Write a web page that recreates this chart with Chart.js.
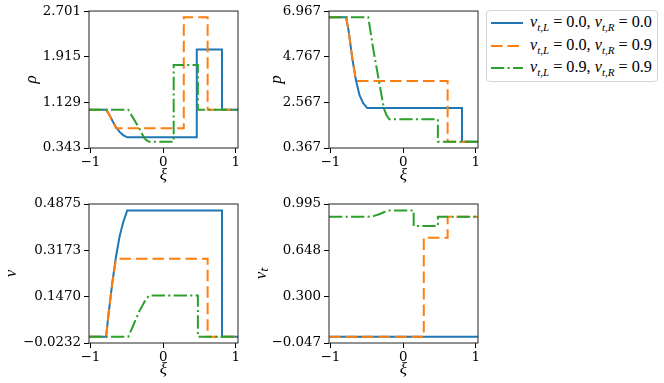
<!DOCTYPE html>
<html>
<head>
<meta charset="utf-8">
<script src="https://cdn.jsdelivr.net/npm/chart.js"></script>
<style>
  body { margin: 0; background: #fff; }
  #fig { position: relative; width: 664px; height: 383px; overflow: hidden; background: #fff; }
  #fig canvas { position: absolute; }
  #legend { position: absolute; left: 486px; top: 10px; width: 172px; height: 72px; box-sizing: border-box;
            border: 1px solid #d4d4d4; border-radius: 4px; background: #fff;
            font-family: "Liberation Serif", serif; font-size: 16.2px; color: #000; }
  .row { position: absolute; left: 0; height: 20px; line-height: 20px; white-space: nowrap; }
  .row svg { position: absolute; left: 3px; top: 7px; }
  .row span { position: absolute; left: 43px; top: 0; }
  .row sub { font-size: 11px; vertical-align: -4px; line-height: 0; }
</style>
</head>
<body>
<div id="fig">
  <canvas id="cRho" width="250" height="190" style="left:0;top:0"></canvas>
  <canvas id="cP" width="250" height="190" style="left:240px;top:0"></canvas>
  <canvas id="cV" width="250" height="193" style="left:0;top:190px"></canvas>
  <canvas id="cVt" width="250" height="193" style="left:240px;top:190px"></canvas>
  <div id="legend"></div>
</div>
<script>
// self-similar coordinate xi, one set of nodes per run
const xiBlue   = [-1.02, -0.785, -0.75, -0.70, -0.65, -0.60, -0.55, -0.494, 0.463, 0.463, 0.81, 0.81, 1.03];
const rhoBlue  = [1.0, 1.0, 0.935, 0.815, 0.705, 0.62, 0.565, 0.527, 0.527, 2.04, 2.04, 1.0, 1.0];
const pBlue    = [6.667, 6.667, 6.01, 4.70, 3.64, 2.91, 2.53, 2.29, 2.29, 2.29, 2.29, 0.667, 0.667];
const vBlue    = [0, 0, 0.086, 0.197, 0.292, 0.367, 0.420, 0.464, 0.464, 0.464, 0.464, 0, 0];
const vtBlue   = [0, 0, 0, 0, 0, 0, 0, 0, 0, 0, 0, 0, 0];

const xiOrange  = [-1.02, -0.785, -0.75, -0.70, -0.648, 0.284, 0.284, 0.612, 0.612, 1.03];
const rhoOrange = [1.0, 1.0, 0.935, 0.815, 0.685, 0.685, 2.594, 2.594, 1.0, 1.0];
const pOrange   = [6.667, 6.667, 6.01, 4.70, 3.60, 3.60, 3.60, 3.60, 0.667, 0.667];
const vOrange   = [0, 0, 0.086, 0.197, 0.286, 0.286, 0.286, 0.286, 0, 0];
const vtOrange  = [0, 0, 0, 0, 0, 0, 0.742, 0.742, 0.9, 0.9];

const xiGreen  = [-1.02, -0.48, -0.41, -0.33, -0.266, -0.23, -0.19, 0.145, 0.145, 0.478, 0.478, 1.03];
const rhoGreen = [1.0, 1.0, 0.853, 0.685, 0.527, 0.478, 0.45, 0.45, 1.771, 1.771, 1.0, 1.0];
const pGreen   = [6.667, 6.667, 5.1, 3.55, 2.29, 1.95, 1.75, 1.75, 1.75, 1.75, 0.667, 0.667];
const vGreen   = [0, 0, 0.042, 0.092, 0.124, 0.140, 0.151, 0.151, 0.151, 0.151, 0, 0];
const vtGreen  = [0.9, 0.9, 0.904, 0.918, 0.933, 0.941, 0.947, 0.947, 0.83, 0.83, 0.9, 0.9];

const rhoTicks = ['0.343', '1.129', '1.915', '2.701'];
const pTicks   = ['0.367', '2.567', '4.767', '6.967'];
const vTicks   = ['-0.0232', '0.1470', '0.3173', '0.4875'];
const vtTicks  = ['-0.047', '0.300', '0.648', '0.995'];
const xiTicks  = [-1, 0, 1];

const runLabels = ['v_{t,L} = 0.0, v_{t,R} = 0.0', 'v_{t,L} = 0.0, v_{t,R} = 0.9', 'v_{t,L} = 0.9, v_{t,R} = 0.9'];

const colors = ['#1f77b4', '#ff7f0e', '#2ca02c'];
const dashes = [[], [11.5, 5], [13.3, 3.3, 2.1, 3.3]];

const tickFont = { family: 'DejaVu Serif', size: 13.4 };
const labelFont = { family: 'Liberation Serif', size: 17, style: 'italic' };
const minus = s => String(s).replace('-', '\u2212');

const frame = {
  id: 'frame',
  afterDraw(chart) {
    const a = chart.chartArea, ctx = chart.ctx;
    ctx.save();
    ctx.strokeStyle = '#222';
    ctx.lineWidth = 1;
    ctx.strokeRect(a.left, a.top, a.right - a.left, a.bottom - a.top);
    ctx.restore();
  }
};

function pts(xs, ys) { return xs.map((x, i) => ({ x: x, y: ys[i] })); }

function makePanel(id, series, ticks, yLabel, opt) {
  const datasets = series.map((s, i) => ({
    data: pts(s[0], s[1]),
    borderColor: colors[i],
    borderWidth: 2,
    borderDash: dashes[i],
    pointRadius: 0,
    tension: 0,
    fill: false,
    order: 3 - i
  }));
  return new Chart(document.getElementById(id), {
    type: 'line',
    data: { datasets: datasets },
    plugins: [frame],
    options: {
      responsive: false,
      animation: false,
      layout: { padding: { left: 0, right: 12, top: opt.top, bottom: 0 } },
      plugins: { legend: { display: false }, tooltip: { enabled: false } },
      scales: {
        x: {
          type: 'linear', min: -1.02, max: 1.03,
          afterBuildTicks: s => { s.ticks = xiTicks.map(v => ({ value: v })); },
          afterFit: s => { s.height = opt.xh; },
          ticks: { font: tickFont, color: '#000', padding: 1, maxRotation: 0, callback: v => minus(v) },
          grid: { drawOnChartArea: false, drawTicks: true, tickLength: 5, color: '#000', lineWidth: 1 },
          border: { display: false },
          title: { display: true, text: '\u03be', font: labelFont, color: '#000', padding: { top: 0, bottom: opt.xpad } }
        },
        y: {
          min: +ticks[0], max: +ticks[3],
          afterBuildTicks: s => { s.ticks = ticks.map(v => ({ value: +v })); },
          afterFit: s => { s.width = 89; },
          ticks: { font: tickFont, color: '#000', padding: 3, callback: (v, i) => minus(ticks[i]) },
          grid: { drawOnChartArea: false, drawTicks: true, tickLength: 5, color: '#000', lineWidth: 1 },
          border: { display: false },
          title: { display: true, text: yLabel, font: labelFont, color: '#000', padding: { top: opt.ypad, bottom: 0 } }
        }
      }
    }
  });
}

makePanel('cRho', [[xiBlue, rhoBlue], [xiOrange, rhoOrange], [xiGreen, rhoGreen]], rhoTicks, '\u03c1', { top: 10, xh: 42, xpad: 4, ypad: 21 });
makePanel('cP', [[xiBlue, pBlue], [xiOrange, pOrange], [xiGreen, pGreen]], pTicks, 'p', { top: 10, xh: 42, xpad: 4, ypad: 26 });
makePanel('cV', [[xiBlue, vBlue], [xiOrange, vOrange], [xiGreen, vGreen]], vTicks, 'v', { top: 14, xh: 40, xpad: 3, ypad: 1 });
makePanel('cVt', [[xiBlue, vtBlue], [xiOrange, vtOrange], [xiGreen, vtGreen]], vtTicks, 'v\u209c', { top: 14, xh: 40, xpad: 3, ypad: 11 });

// legend
const legend = document.getElementById('legend');
runLabels.forEach((lab, i) => {
  const m = lab.match(/v_\{t,(\w)\} = ([\d.]+), v_\{t,(\w)\} = ([\d.]+)/);
  const row = document.createElement('div');
  row.className = 'row';
  row.style.top = (1 + i * 22.5) + 'px';
  const dash = dashes[i].join(' ');
  row.innerHTML =
    '<svg width="34" height="8"><line x1="1" y1="4" x2="33" y2="4" stroke="' + colors[i] +
    '" stroke-width="2" stroke-dasharray="' + (dash || 'none') + '"/></svg>' +
    '<span><i>v</i><sub><i>t</i>,<i>' + m[1] + '</i></sub> = ' + m[2] + ', <i>v</i><sub><i>t</i>,<i>' + m[3] + '</i></sub> = ' + m[4] + '</span>';
  legend.appendChild(row);
});
</script>
</body>
</html>
